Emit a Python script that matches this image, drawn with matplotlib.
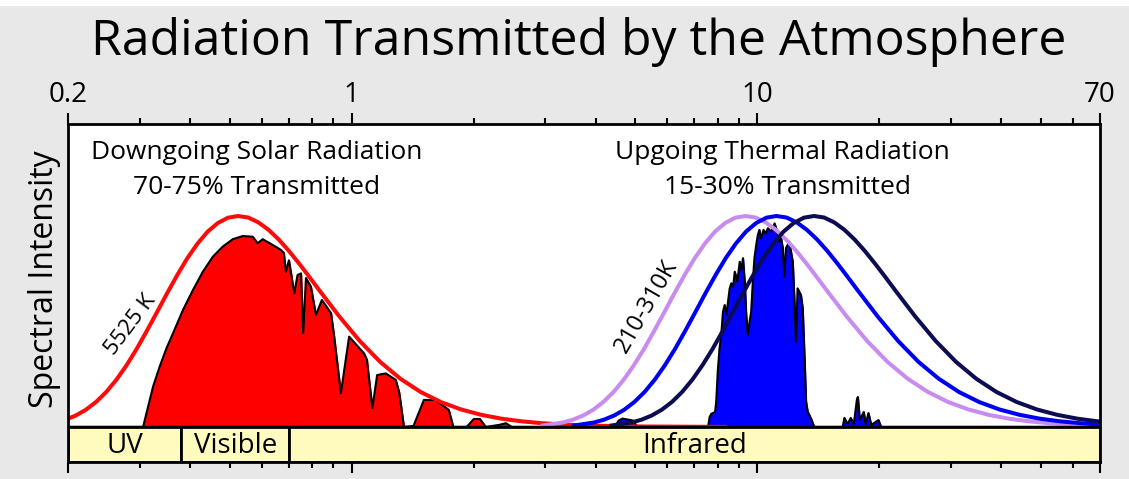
import matplotlib.pyplot as plt
from matplotlib.patches import Rectangle

plt.rcParams['font.family'] = ['Open Sans', 'DejaVu Sans']

# Blackbody curves, normalised to peak = 1; all four share the same
# shape on a log-wavelength axis, only the peak position moves
bb_shape = [0.0068, 0.0212, 0.0347, 0.0545, 0.0822, 0.1191, 0.1664, 0.2244, 0.2929,
            0.3702, 0.4555, 0.5444, 0.634, 0.7202, 0.8004, 0.8695, 0.9262, 0.9668,
            0.992, 1.0, 0.9927, 0.9698, 0.9346, 0.8890, 0.8352, 0.7757, 0.7129,
            0.6486, 0.5227, 0.4076, 0.3091, 0.2289, 0.1659, 0.1182, 0.0829, 0.0574,
            0.0392, 0.0266, 0.0178, 0.0119, 0.0079, 0.0052, 0.0022, 0.0004]

k5525_wl = [0.1659, 0.1861, 0.1971, 0.2088, 0.2212, 0.2343, 0.2482, 0.2629, 0.2785,
            0.2949, 0.3124, 0.3310, 0.3505, 0.3713, 0.3933, 0.4166, 0.4413, 0.4675,
            0.4952, 0.5245, 0.5556, 0.5885, 0.6234, 0.6603, 0.6994, 0.7409, 0.7848,
            0.8313, 0.9327, 1.0465, 1.1742, 1.3175, 1.4783, 1.6586, 1.8610, 2.0881,
            2.3429, 2.6287, 2.9495, 3.3094, 3.7132, 4.1663, 5.245, 8.313]
k310_wl = [2.956, 3.317, 3.514, 3.722, 3.943, 4.177, 4.424, 4.686, 4.964, 5.258,
           5.570, 5.900, 6.249, 6.619, 7.012, 7.427, 7.867, 8.334, 8.827, 9.35,
           9.904, 10.49, 11.11, 11.77, 12.47, 13.21, 13.99, 14.82, 16.63, 18.66,
           20.93, 23.49, 26.35, 29.57, 33.17, 37.22, 41.76, 46.86, 52.58, 58.99,
           66.19, 74.27]
k260_wl = [3.526, 3.956, 4.190, 4.439, 4.702, 4.981, 5.276, 5.588, 5.920, 6.270,
           6.642, 7.036, 7.452, 7.893, 8.361, 8.856, 9.382, 9.938, 10.53, 11.15,
           11.81, 12.51, 13.25, 14.04, 14.87, 15.75, 16.68, 17.67, 19.83, 22.25,
           24.96, 28.01, 31.43, 35.26, 39.56, 44.39, 49.80, 55.88, 62.70, 70.35]
k210_wl = [4.364, 4.896, 5.186, 5.494, 5.819, 6.164, 6.530, 6.917, 7.326, 7.760,
           8.221, 8.708, 9.223, 9.769, 10.35, 10.96, 11.61, 12.30, 13.03, 13.8,
           14.62, 15.48, 16.40, 17.37, 18.40, 19.49, 20.65, 21.87, 24.54, 27.54,
           30.89, 34.66, 38.89, 43.64, 48.96, 54.94, 61.64, 69.16, 77.60]

# Solar radiation reaching the ground
solar_wl = [0.2, 0.3058, 0.3146, 0.3236, 0.336, 0.3492, 0.3624, 0.3836, 0.4058,
            0.4294, 0.4544, 0.4808, 0.5088, 0.5386, 0.5698, 0.5862, 0.603, 0.638,
            0.669, 0.68, 0.688, 0.70, 0.7216, 0.735, 0.7496, 0.759, 0.771, 0.793,
            0.816, 0.844, 0.889, 0.905, 0.940, 0.985, 1.072, 1.09, 1.124, 1.155,
            1.213, 1.284, 1.31, 1.345, 1.42, 1.506, 1.609, 1.735, 1.78, 1.92, 2.0,
            2.07, 2.14, 2.31, 2.40, 2.48, 70]
solar_val = [0, 0, 0.096, 0.191, 0.286, 0.373, 0.444, 0.555, 0.649,
             0.736, 0.807, 0.855, 0.890, 0.905, 0.902, 0.871, 0.890, 0.863,
             0.839, 0.825, 0.736, 0.79, 0.634, 0.72, 0.728, 0.445, 0.706, 0.665,
             0.531, 0.602, 0.539, 0.428, 0.160, 0.428, 0.349, 0.318, 0.089, 0.246,
             0.254, 0.223, 0.161, 0, 0.005, 0.128, 0.128, 0.081, 0, 0, 0.038,
             0.038, 0, 0.01, 0.018, 0, 0]

# Thermal radiation escaping to space
thermal_wl = [0.2, 4.45, 4.55, 4.65, 4.8, 4.95, 5.05, 7.56, 7.63, 7.7, 7.87, 7.92,
              7.99, 8.07, 8.15, 8.23, 8.31, 8.39, 8.47, 8.55, 8.63, 8.72, 8.80,
              8.93, 9.05, 9.13, 9.22, 9.31, 9.39, 9.48, 9.57, 9.66, 9.75, 9.84,
              9.94, 10.03, 10.12, 10.21, 10.36, 10.49, 10.62, 10.81, 11.03, 11.13,
              11.23, 11.33, 11.43, 11.56, 11.66, 11.77, 11.99, 12.23, 12.34, 12.46,
              12.57, 12.81, 12.94, 13.07, 13.19, 13.31, 13.56, 13.82, 16.24, 16.4,
              16.7, 17.0, 17.3, 17.6, 17.7, 17.9, 18.3, 18.5, 18.8, 19.1, 19.9,
              20.2, 70]
thermal_val = [0, 0, 0.03, 0.04, 0.035, 0.03, 0, 0, 0.047, 0.062, 0.071, 0.12,
               0.262, 0.373, 0.436, 0.546, 0.578, 0.531, 0.594, 0.657, 0.681, 0.665,
               0.736, 0.689, 0.783, 0.744, 0.80, 0.689, 0.531, 0.436, 0.499, 0.546,
               0.689, 0.80, 0.863, 0.910, 0.934, 0.894, 0.934, 0.918, 0.942, 0.926,
               0.965, 0.942, 0.910, 0.878, 0.902, 0.847, 0.712, 0.847, 0.878, 0.783,
               0.610, 0.404, 0.657, 0.626, 0.563, 0.341, 0.12, 0.073, 0.041, 0, 0,
               0.043, 0.014, 0.043, 0.014, 0.128, 0.142, 0.033, 0.071, 0.014, 0.066,
               0.01, 0.033, 0, 0]

band_names = ['UV', 'Visible', 'Infrared']
band_edges = [0.2, 0.38, 0.7, 70]

fig = plt.figure(figsize=(11.29, 4.79), dpi=100, facecolor='#e8e8e8')
fig.add_artist(Rectangle((0, 1 - 5 / 479), 1, 5 / 479, transform=fig.transFigure,
                         color='white', zorder=0))
ax = fig.add_axes([0.0605, 0.0355, 0.9138, 0.7056])
ax.set_facecolor('white')

ax.fill_between(solar_wl, solar_val, color='#ff0000', zorder=2)
ax.plot(solar_wl, solar_val, color='black', lw=1.5, zorder=3)
ax.fill_between(thermal_wl, thermal_val, color='#0000ff', zorder=2)
ax.plot(thermal_wl, thermal_val, color='black', lw=1.5, zorder=3)

curves = [(k5525_wl, '#ff0a0a'), (k310_wl, '#c88cf0'),
          (k260_wl, '#0000f0'), (k210_wl, '#0c0c52')]
for wl, col in curves:
    ax.plot(wl, bb_shape[:len(wl)], color=col, lw=2.9, zorder=4,
            solid_joinstyle='round')

ax.set_xscale('log')
ax.set_xlim(0.2, 70)
ax.set_ylim(-0.166, 1.436)
ax.axhline(0, color='black', lw=2.4, zorder=5)

# wavelength regions along the bottom
for name, lo, hi in zip(band_names, band_edges[:-1], band_edges[1:]):
    ax.add_patch(Rectangle((lo, -0.166), hi - lo, 0.166, facecolor='#fffbbf',
                           edgecolor='black', lw=2, zorder=5))
    ax.text((lo * hi) ** 0.5, -0.092, name, ha='center', va='center',
            fontsize=20, zorder=6)

ax.set_xticks([0.2, 1, 10, 70])
ax.set_xticklabels(['0.2', '1', '10', '70'])
ax.set_yticks([])
ax.tick_params(axis='x', which='both', top=True, bottom=True, labeltop=True,
               labelbottom=False, direction='out', labelsize=20, pad=3)
ax.tick_params(axis='x', which='major', length=8, width=1.5)
ax.tick_params(axis='x', which='minor', length=4, width=1.5)
for s in ax.spines.values():
    s.set_linewidth(2)
    s.set_zorder(7)

ax.text(0.582, 1.299, 'Downgoing Solar Radiation', ha='center', va='center', fontsize=19)
ax.text(0.582, 1.137, '70-75% Transmitted', ha='center', va='center', fontsize=19)
ax.text(11.56, 1.299, 'Upgoing Thermal Radiation', ha='center', va='center', fontsize=19)
ax.text(11.9, 1.137, '15-30% Transmitted', ha='center', va='center', fontsize=19)
ax.text(0.285, 0.483, '5525 K', ha='center', va='center', rotation=53, fontsize=16)
ax.text(5.32, 0.573, '210-310K', ha='center', va='center', rotation=60, fontsize=17)

fig.text(0.039, 0.4175, 'Spectral Intensity', rotation=90, ha='center', va='center',
         fontsize=23)
fig.text(0.513, 0.913, 'Radiation Transmitted by the Atmosphere', ha='center',
         va='center', fontsize=36)

fig.savefig('out.png', dpi=100, facecolor=fig.get_facecolor())
